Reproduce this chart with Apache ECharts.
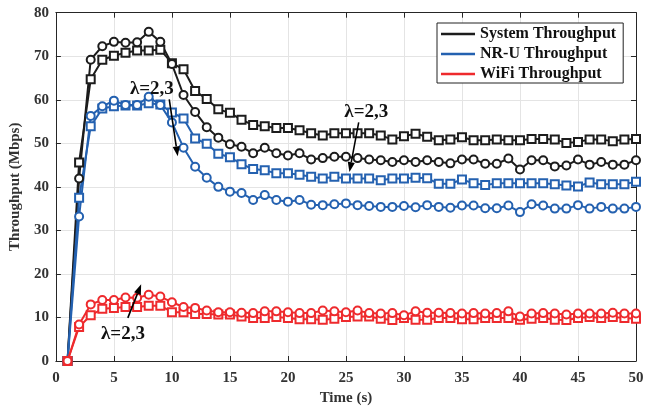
<!DOCTYPE html>
<html>
<head>
<meta charset="utf-8">
<script src="https://cdn.jsdelivr.net/npm/echarts@6/dist/echarts.min.js"></script>
<style>
  html, body { margin: 0; padding: 0; background: #fff; }
  #chart { width: 655px; height: 411px; }
</style>
</head>
<body>
<div id="chart"></div>
<script>
// time axis (s)
const timeSec = [];
for (let t = 1; t <= 50; t++) timeSec.push(t);

// system throughput (Mbps), lambda = 2 (squares) and lambda = 3 (circles)
const systemL2 = [0, 45.6, 64.7, 69.2, 70.1, 70.8, 71.3, 71.3, 71.5, 68.4,
  67.0, 62.0, 60.2, 57.8, 57.0, 55.4, 54.2, 53.9, 53.5, 53.5,
  53.0, 52.3, 51.8, 52.3, 52.3, 52.3, 52.3, 51.8, 50.9, 51.6,
  52.2, 51.5, 50.7, 50.9, 51.4, 50.7, 50.7, 50.9, 50.7, 50.7,
  51.0, 51.0, 50.9, 50.1, 50.3, 50.9, 50.9, 50.5, 50.9, 51.0];
const systemL3 = [0, 41.9, 69.2, 72.3, 73.3, 73.1, 73.2, 75.6, 73.3, 68.2,
  61.1, 57.2, 53.7, 51.3, 49.8, 49.2, 47.7, 49.0, 47.7, 47.2,
  47.7, 46.3, 46.6, 46.9, 46.9, 46.6, 46.3, 46.1, 45.7, 46.1,
  45.7, 46.1, 45.7, 45.4, 46.3, 46.3, 45.3, 45.3, 46.5, 44.0,
  46.1, 46.1, 44.7, 44.9, 46.3, 45.1, 45.7, 45.1, 45.1, 46.1];

// NR-U throughput (Mbps)
const nruL2 = [0, 37.5, 53.9, 58.0, 58.5, 58.7, 58.7, 59.2, 58.9, 57.1,
  55.7, 51.1, 49.9, 47.6, 46.8, 45.2, 44.1, 43.8, 43.1, 43.1,
  42.8, 42.3, 41.9, 42.3, 41.9, 41.9, 41.9, 41.5, 41.9, 41.9,
  42.1, 42.0, 40.7, 40.7, 41.7, 40.8, 40.4, 40.8, 40.8, 40.8,
  40.8, 40.8, 40.6, 40.3, 40.1, 41.0, 40.6, 40.6, 40.6, 41.2];
const nruL3 = [0, 33.2, 56.3, 58.5, 59.8, 58.8, 58.8, 60.7, 58.8, 54.8,
  49.0, 44.6, 42.1, 40.0, 38.9, 38.6, 37.0, 38.1, 37.0, 36.6,
  37.0, 35.9, 35.8, 36.0, 36.2, 35.8, 35.6, 35.4, 35.4, 35.6,
  35.3, 35.8, 35.4, 35.2, 35.7, 35.7, 35.1, 35.1, 35.7, 34.2,
  36.0, 35.7, 35.0, 35.0, 35.8, 35.0, 35.4, 35.0, 35.0, 35.4];

// WiFi throughput (Mbps)
const wifiL2 = [0, 7.8, 10.5, 12.0, 12.2, 12.4, 12.4, 12.7, 12.7, 11.2,
  11.2, 10.8, 10.8, 10.7, 10.7, 10.2, 9.9, 9.9, 10.1, 9.9,
  9.6, 9.6, 9.5, 9.7, 10.1, 10.2, 10.2, 9.7, 9.4, 9.9,
  9.5, 9.5, 9.9, 9.9, 9.6, 9.6, 9.9, 9.9, 9.9, 9.5,
  9.7, 9.9, 9.5, 9.4, 9.9, 10.1, 9.9, 10.1, 9.9, 9.7];
const wifiL3 = [0, 8.4, 13.0, 14.0, 14.0, 14.6, 14.5, 15.2, 14.8, 13.5,
  12.4, 12.2, 11.6, 11.2, 11.2, 11.1, 11.0, 11.4, 11.4, 11.2,
  11.0, 11.0, 11.6, 11.4, 11.2, 11.6, 11.0, 10.9, 11.0, 10.5,
  11.4, 11.1, 11.1, 11.0, 10.9, 11.0, 10.9, 11.0, 11.4, 10.2,
  10.9, 11.0, 10.9, 10.7, 10.9, 10.9, 10.9, 11.1, 10.9, 10.9];

// axis ticks
const xTicks = { min: 0, max: 50, step: 5 };
const yTicks = { min: 0, max: 80, step: 10 };

const legendNames = ['System Throughput', 'NR-U Throughput', 'WiFi Throughput'];
const lambdaText = 'λ=2,3';

const SERIF = '"Liberation Serif", "Times New Roman", serif';
const TEXT = '#333';
const COLORS = { sys: '#1c1c1c', nru: '#2461b0', wifi: '#ee2a2d' };

function pairs(vals) { return timeSec.map((t, i) => [t, vals[i]]); }

function lineSeries(name, vals, color, symbol) {
  return {
    name, type: 'line', data: pairs(vals),
    symbol, symbolSize: 8, showSymbol: true,
    lineStyle: { color, width: 2 },
    itemStyle: { color, borderWidth: 1.7 },
    color, z: 3, animation: false
  };
}

// arrow annotations: start x, start y, tip x, tip y (data coordinates)
const arrows = [
  [9.77, 60.1, 10.5, 47.0],
  [26.1, 54.8, 25.3, 43.4],
  [6.2, 9.9, 7.35, 17.6]
];
const labelAnchors = [[8.27, 62.4], [26.75, 57.1], [5.78, 6.1]];

// straight arrow with a filled triangular head, positioned through the axes
function renderArrow(params, api) {
  const p1 = api.coord([api.value(0), api.value(1)]);
  const p2 = api.coord([api.value(2), api.value(3)]);
  const dx = p2[0] - p1[0], dy = p2[1] - p1[1];
  const len = Math.sqrt(dx * dx + dy * dy);
  const ux = dx / len, uy = dy / len;
  const headLen = 10, headHalf = 3.6;
  const bx = p2[0] - ux * headLen, by = p2[1] - uy * headLen;
  return {
    type: 'group',
    children: [{
      type: 'line',
      shape: { x1: p1[0], y1: p1[1], x2: bx, y2: by },
      style: { stroke: '#000', lineWidth: 1.6 }
    }, {
      type: 'polygon',
      shape: { points: [
        [p2[0], p2[1]],
        [bx - uy * headHalf, by + ux * headHalf],
        [bx + uy * headHalf, by - ux * headHalf]
      ] },
      style: { fill: '#000' }
    }]
  };
}

const sysSquares = lineSeries(legendNames[0], systemL2, COLORS.sys, 'emptyRect');
sysSquares.markPoint = {
  silent: true, animation: false,
  symbol: 'circle', symbolSize: 0,
  label: {
    show: true, position: 'inside', formatter: lambdaText,
    fontFamily: SERIF, fontWeight: 'bold', fontSize: 19, color: '#111'
  },
  data: labelAnchors.map(c => ({ coord: c }))
};

const axisLabelStyle = { fontFamily: SERIF, fontWeight: 'bold', fontSize: 15, color: TEXT };
const frameLine = { show: true, onZero: false, lineStyle: { color: '#262626', width: 1 } };
const tickIn = { show: true, inside: true, length: 5, lineStyle: { color: '#262626' } };

const option = {
  backgroundColor: '#fff',
  animation: false,
  grid: { left: 52.5, right: 19, top: 12.7, bottom: 46.7, containLabel: false },
  legend: {
    data: legendNames,
    orient: 'vertical', left: 437, top: 23,
    icon: 'rect', itemWidth: 34, itemHeight: 2.6, itemGap: 4,
    itemStyle: { borderWidth: 0 },
    padding: [3, 7, 1, 4],
    backgroundColor: '#fff', borderColor: '#222', borderWidth: 1,
    textStyle: { fontFamily: SERIF, fontWeight: 'bold', fontSize: 16, color: '#111', lineHeight: 16 },
    selectedMode: false
  },
  xAxis: [{
    type: 'value', min: xTicks.min, max: xTicks.max, interval: xTicks.step,
    name: 'Time (s)', nameLocation: 'middle', nameGap: 30,
    nameTextStyle: { fontFamily: SERIF, fontWeight: 'bold', fontSize: 15, color: TEXT },
    axisLine: frameLine, axisTick: tickIn,
    axisLabel: Object.assign({ margin: 10 }, axisLabelStyle),
    splitLine: { show: true, lineStyle: { color: '#e4e4e4', width: 1 } }
  }, {
    type: 'value', position: 'top', min: xTicks.min, max: xTicks.max, interval: xTicks.step,
    axisLine: frameLine, axisTick: tickIn, axisLabel: { show: false }, splitLine: { show: false }
  }],
  yAxis: [{
    type: 'value', min: yTicks.min, max: yTicks.max, interval: yTicks.step,
    name: 'Throughput (Mbps)', nameLocation: 'middle', nameGap: 26,
    nameTextStyle: { fontFamily: SERIF, fontWeight: 'bold', fontSize: 15, color: TEXT },
    axisLine: frameLine, axisTick: tickIn,
    axisLabel: Object.assign({ margin: 7 }, axisLabelStyle),
    splitLine: { show: true, lineStyle: { color: '#e4e4e4', width: 1 } }
  }, {
    type: 'value', position: 'right', min: yTicks.min, max: yTicks.max, interval: yTicks.step,
    axisLine: frameLine, axisTick: tickIn, axisLabel: { show: false }, splitLine: { show: false }
  }],
  series: [
    sysSquares,
    lineSeries(legendNames[0], systemL3, COLORS.sys, 'emptyCircle'),
    lineSeries(legendNames[1], nruL2, COLORS.nru, 'emptyRect'),
    lineSeries(legendNames[1], nruL3, COLORS.nru, 'emptyCircle'),
    lineSeries(legendNames[2], wifiL2, COLORS.wifi, 'emptyRect'),
    lineSeries(legendNames[2], wifiL3, COLORS.wifi, 'emptyCircle'),
    {
      name: 'arrows', type: 'custom', data: arrows,
      encode: { x: [0, 2], y: [1, 3] },
      renderItem: renderArrow, silent: true, z: 5, animation: false
    }
  ]
};

const chart = echarts.init(document.getElementById('chart'), null, { renderer: 'canvas' });
chart.setOption(option);
</script>
</body>
</html>
